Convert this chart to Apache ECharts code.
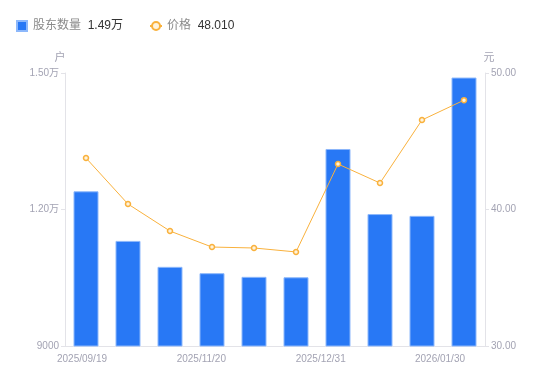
<!DOCTYPE html>
<html>
<head>
<meta charset="utf-8">
<script src="https://cdn.jsdelivr.net/npm/echarts@6/dist/echarts.min.js"></script>
<style>html,body{margin:0;padding:0;background:#fff}#c{width:550px;height:381px}</style>
</head>
<body>
<div id="c"></div>
<script>
var categories = ['2025/09/19','2025/09/30','2025/10/31','2025/11/20','2025/11/28','2025/12/10','2025/12/31','2026/01/09','2026/01/20','2026/01/30'];
var holders = [12400, 11310, 10740, 10600, 10520, 10510, 13330, 11900, 11860, 14900];
var prices = [43.77, 40.40, 38.42, 37.25, 37.18, 36.89, 43.33, 41.94, 46.56, 48.01];
var xTickLabels = ['2025/09/19', '2025/11/20', '2025/12/31', '2026/01/30'];

var chart = echarts.init(document.getElementById('c'));
var labelColor = '#a3a3b3';
var font = '"Liberation Sans","Noto Sans CJK SC",sans-serif';
function fmtLeft(v){ return v >= 10000 ? (v/10000).toFixed(2) + '万' : String(v); }
chart.setOption({
  animation: false,
  textStyle: {fontFamily: font},
  legend: {
    left: 11, top: 15, itemGap: 26, itemWidth: 12, itemHeight: 10,
    data: [{name: '股东数量', icon: 'path://M0,0h10v10h-10z'}, {name: '价格'}],
    formatter: function(name){
      if (name === '股东数量') return '{n|' + name + '}  {v|' + fmtLeft(holders[holders.length-1]) + '}';
      return '{n|' + name + '}  {v|' + prices[prices.length-1].toFixed(3) + '}';
    },
    textStyle: {
      rich: {
        n: {color: '#8a8a8a', fontSize: 12, fontFamily: font},
        v: {color: '#333', fontSize: 12, fontFamily: font}
      }
    }
  },
  grid: [
    {left: 65, right: 65, top: 73, bottom: 35},
    {left: 82, right: 110, top: 73, bottom: 35}
  ],
  xAxis: [{
    type: 'category', data: categories,
    axisLine: {lineStyle: {color: '#e3e3e8'}},
    axisTick: {show: false},
    axisLabel: {show: false}
  }, {
    type: 'category', data: xTickLabels, gridIndex: 1, boundaryGap: false,
    axisLine: {show: false}, axisTick: {show: false}, splitLine: {show: false},
    axisLabel: {color: labelColor, fontSize: 10, margin: 8, interval: 0}
  }],
  yAxis: [{
    type: 'value', min: 9000, max: 15000, interval: 3000, name: '户',
    nameTextStyle: {color: labelColor, fontSize: 11, align: 'center', padding: [0, 10, 0, 0]},
    nameGap: 10,
    axisLine: {show: true, lineStyle: {color: '#e3e3e8'}},
    axisTick: {show: true, length: 4, lineStyle: {color: '#e3e3e8'}},
    splitLine: {show: false},
    axisLabel: {color: labelColor, fontSize: 10, margin: 6, formatter: fmtLeft}
  }, {
    type: 'value', min: 30, max: 50, interval: 10, name: '元',
    nameTextStyle: {color: labelColor, fontSize: 11, padding: [0, 0, 0, 8]},
    nameGap: 10,
    axisLine: {show: true, lineStyle: {color: '#e3e3e8'}},
    axisTick: {show: true, length: 4, lineStyle: {color: '#e3e3e8'}},
    splitLine: {show: false},
    axisLabel: {color: labelColor, fontSize: 10, margin: 6, formatter: function(v){ return v.toFixed(2); }}
  }, {
    type: 'value', gridIndex: 1, show: false
  }],
  series: [{
    name: '股东数量', type: 'bar', data: holders, barWidth: 25,
    itemStyle: {color: '#2878F5', borderColor: '#8db8fb', borderWidth: 1}
  }, {
    name: '价格', type: 'line', yAxisIndex: 1, data: prices,
    symbol: 'circle', symbolSize: 5,
    lineStyle: {color: '#F9B13C', width: 1},
    itemStyle: {color: '#FFF3DC', borderColor: '#F9B13C', borderWidth: 1.5}
  }]
});
</script>
</body>
</html>
